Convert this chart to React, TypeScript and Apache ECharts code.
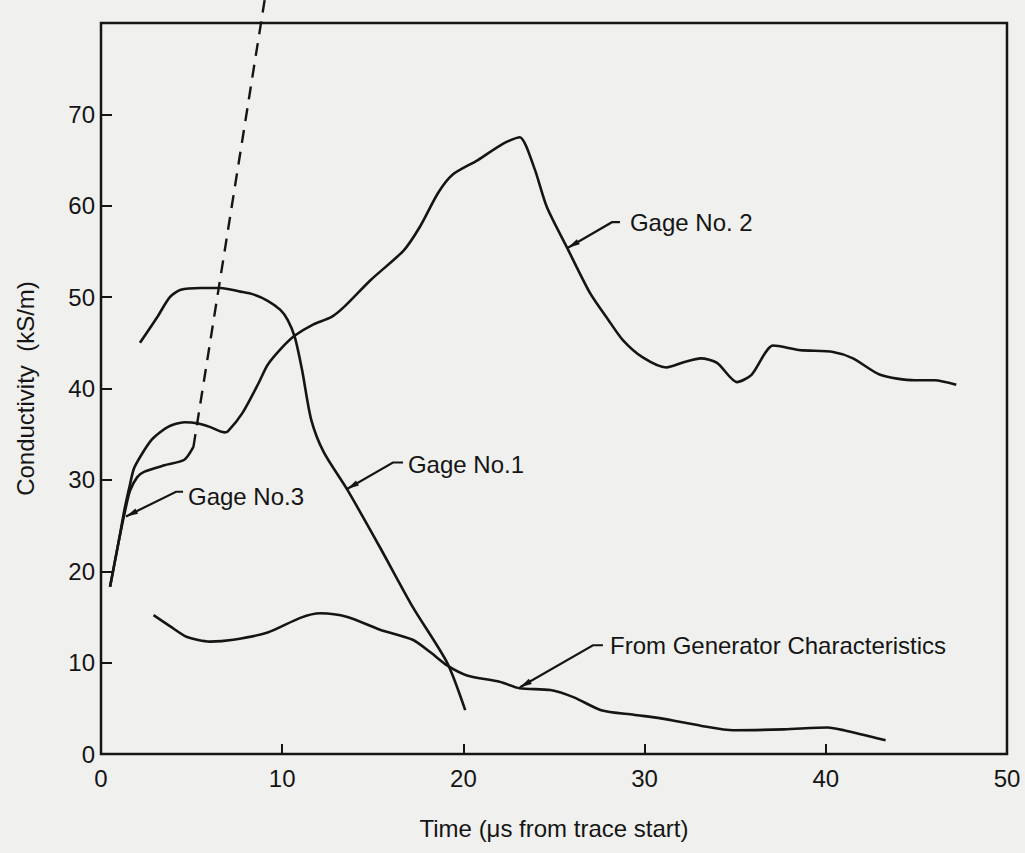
import React, { useEffect, useRef } from "react";
import * as echarts from "echarts";

// ---- Data ----
const xTicks = [0, 10, 20, 30, 40, 50];
const yTickLabels = ["0", "10", "20", "30", "40", "50", "60", "70", ""];

const gage1: number[][] = [
  [2.15, 45.0], [3.1, 47.8], [3.8, 50.0], [4.4, 50.8], [5.5, 51.0], [6.6, 51.0],
  [7.7, 50.6], [8.4, 50.3], [9.2, 49.6], [9.9, 48.6], [10.3, 47.5], [10.7, 45.6],
  [11.1, 42.0], [11.6, 36.6], [12.3, 33.0], [13.6, 28.9], [15.4, 22.6], [17.2, 16.1],
  [19.1, 10.0], [20.1, 4.8],
];

const gage2: number[][] = [
  [0.5, 18.3], [1.0, 23.5], [1.3, 26.8], [1.6, 29.5], [1.85, 31.4], [2.8, 34.4],
  [3.7, 35.8], [4.6, 36.3], [5.3, 36.2], [6.0, 35.8], [6.8, 35.2], [7.0, 35.3],
  [7.8, 37.3], [8.7, 40.6], [9.2, 42.6], [10.0, 44.5], [10.7, 45.8], [11.7, 47.0],
  [12.7, 47.8], [13.4, 48.9], [14.9, 51.9], [16.7, 55.1], [17.6, 57.7], [18.6, 61.4],
  [19.4, 63.4], [20.8, 65.0], [22.2, 66.8], [23.1, 67.5], [23.9, 64.2], [24.6, 59.9],
  [25.7, 55.5], [27.0, 50.4], [28.0, 47.5], [28.8, 45.3], [29.9, 43.4], [31.2, 42.3],
  [32.2, 42.9], [33.1, 43.3], [34.0, 42.8], [35.1, 40.7], [35.9, 41.5], [37.1, 44.7],
  [38.6, 44.2], [40.4, 44.0], [41.5, 43.3], [43.0, 41.5], [44.9, 40.9], [46.0, 40.9],
  [47.2, 40.4],
];

const gage3: number[][] = [
  [0.5, 18.3], [1.0, 23.5], [1.35, 26.8], [1.6, 28.8], [2.0, 30.3], [2.4, 30.9],
  [3.5, 31.6], [4.6, 32.2], [5.1, 33.6],
];

const gage3Extrapolated: number[][] = [
  [5.1, 33.6], [9.03, 82.5],
];

const generator: number[][] = [
  [2.9, 15.2], [3.8, 14.0], [4.75, 12.8], [6.0, 12.3], [7.3, 12.5], [9.2, 13.3],
  [11.0, 14.9], [12.1, 15.4], [13.6, 15.0], [15.4, 13.6], [17.2, 12.5], [18.2, 11.1],
  [19.1, 9.7], [20.2, 8.6], [22.0, 7.9], [23.1, 7.2], [24.8, 7.0], [26.1, 6.2],
  [27.6, 4.8], [29.4, 4.3], [30.9, 3.9], [33.1, 3.1], [34.9, 2.6], [37.7, 2.7],
  [40.1, 2.9], [41.0, 2.6], [43.3, 1.5],
];

// annotation labels with leader arrows, in data coordinates
const annotationTexts = ["Gage No.3", "Gage No.1", "Gage No. 2", "From Generator Characteristics"];
const annotationAnchors: number[][] = [[4.8, 28.2], [16.94, 31.7], [29.19, 58.2], [28.09, 11.9]];
const annotationLeaders: number[][][] = [
  [[4.53, 28.7], [4.14, 28.7], [1.38, 26.0]],
  [[16.67, 31.9], [16.11, 31.9], [13.58, 29.0]],
  [[28.64, 58.2], [28.2, 58.2], [25.77, 55.4]],
  [[27.7, 11.9], [27.15, 11.9], [23.12, 7.3]],
];

const INK = "#151515";
const FONT = "Liberation Sans";

export default function App() {
  const ref = useRef<HTMLDivElement>(null);

  useEffect(() => {
    if (!ref.current) return;
    const chart = echarts.init(ref.current, undefined, { renderer: "svg" });

    const lineSeries = (name: string, data: number[][], extra: any = {}) => ({
      name,
      type: "line",
      data,
      showSymbol: false,
      symbol: "none",
      smooth: 0.25,
      lineStyle: { color: INK, width: 2.6 },
      ...extra,
    });

    chart.setOption({
      animation: false,
      backgroundColor: "#f0f0ee",
      grid: {
        left: 101,
        top: 23,
        width: 906,
        height: 731,
        show: true,
        borderColor: INK,
        borderWidth: 2.5,
        backgroundColor: "transparent",
      },
      xAxis: {
        type: "value",
        min: 0,
        max: 50,
        interval: 10,
        name: "Time (\u03bcs from trace start)",
        nameLocation: "middle",
        nameGap: 62,
        nameTextStyle: { fontFamily: FONT, fontSize: 24, color: INK, letterSpacing: 2 },
        axisLine: { show: false },
        axisTick: { show: true, inside: true, length: 10, lineStyle: { color: INK, width: 2 } },
        splitLine: { show: false },
        axisLabel: {
          fontFamily: FONT,
          fontSize: 24,
          color: INK,
          margin: 12,
          formatter: (v: number) => (xTicks.indexOf(v) >= 0 ? String(v) : ""),
        },
      },
      yAxis: {
        type: "value",
        min: 0,
        max: 80,
        interval: 10,
        name: "Conductivity  (kS/m)",
        nameLocation: "middle",
        nameGap: 64,
        nameRotate: 90,
        nameTextStyle: { fontFamily: FONT, fontSize: 24, color: INK, letterSpacing: 1 },
        axisLine: { show: false },
        axisTick: { show: true, inside: true, length: 11, lineStyle: { color: INK, width: 2 } },
        splitLine: { show: false },
        axisLabel: {
          fontFamily: FONT,
          fontSize: 24,
          color: INK,
          margin: 6,
          formatter: (v: number) => yTickLabels[Math.round(v / 10)] ?? "",
        },
      },
      series: [
        lineSeries("Gage No.1", gage1),
        lineSeries("Gage No. 2", gage2),
        lineSeries("Gage No.3", gage3),
        lineSeries("Gage No.3 (extrapolated)", gage3Extrapolated, {
          smooth: false,
          clip: false,
          lineStyle: { color: INK, width: 2.4, type: [13, 9] },
        }),
        lineSeries("From Generator Characteristics", generator),
      ],
    });

    // annotations: convert data coordinates to pixels through the chart's own scales
    const px = (p: number[]) => chart.convertToPixel({ gridIndex: 0 }, p) as number[];
    const graphics: any[] = [];
    annotationTexts.forEach((t, i) => {
      const a = px(annotationAnchors[i]);
      graphics.push({
        type: "text",
        x: a[0],
        y: a[1],
        style: {
          text: t,
          fontFamily: FONT,
          fontSize: 24,
          fill: INK,
          verticalAlign: "middle",
          align: "left",
        },
      });
      const pts = annotationLeaders[i].map(px);
      graphics.push({
        type: "polyline",
        shape: { points: pts },
        style: { stroke: INK, lineWidth: 2.2, fill: null },
      });
      const tip = pts[pts.length - 1];
      const prev = pts[pts.length - 2];
      const dx = prev[0] - tip[0];
      const dy = prev[1] - tip[1];
      const len = Math.hypot(dx, dy) || 1;
      const ux = dx / len;
      const uy = dy / len;
      const L = 12;
      const W = 3;
      graphics.push({
        type: "polygon",
        shape: {
          points: [
            tip,
            [tip[0] + ux * L - uy * W, tip[1] + uy * L + ux * W],
            [tip[0] + ux * L + uy * W, tip[1] + uy * L - ux * W],
          ],
        },
        style: { fill: INK },
      });
    });
    chart.setOption({ graphic: graphics });

    return () => chart.dispose();
  }, []);

  return (
    <div
      ref={ref}
      style={{ position: "fixed", left: 0, top: 0, width: 1025, height: 853 }}
    />
  );
}
